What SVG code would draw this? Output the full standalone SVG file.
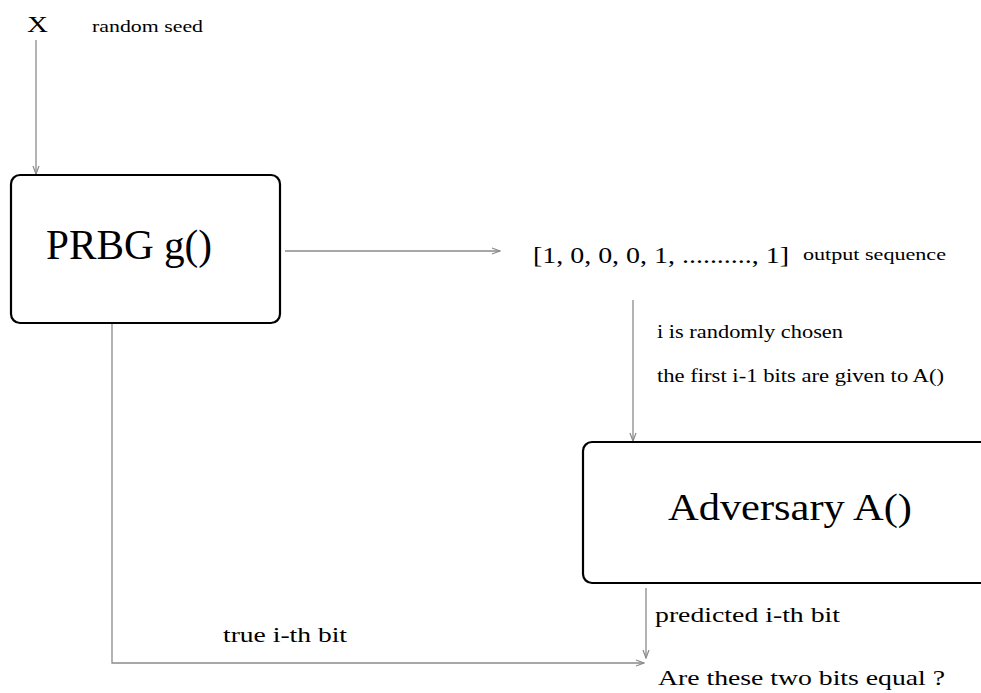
<svg xmlns="http://www.w3.org/2000/svg" width="981" height="693" viewBox="0 0 981 693">
<style>
text{font-family:"Liberation Serif","Times New Roman",serif;fill:#000}
.box{fill:#fff;stroke:#000;stroke-width:2.2}
.conn{fill:none;stroke:#8a8a8a;stroke-width:1.3}
</style>
<defs>
<marker id="arr" markerUnits="userSpaceOnUse" markerWidth="10" markerHeight="8" refX="9" refY="4" orient="auto">
<path d="M1,1 L9,4 L1,7" fill="none" stroke="#8a8a8a" stroke-width="1.2"/>
</marker>
</defs>
<rect width="981" height="693" fill="#fff"/>
<g id="connectors">
<line class="conn" x1="36" y1="40" x2="36" y2="174" marker-end="url(#arr)"/>
<line class="conn" x1="285" y1="251" x2="500" y2="251" marker-end="url(#arr)"/>
<line class="conn" x1="633" y1="300" x2="633" y2="441" marker-end="url(#arr)"/>
<line class="conn" x1="646" y1="588" x2="646" y2="658" marker-end="url(#arr)"/>
<polyline class="conn" points="112,324 112,663 644,663" marker-end="url(#arr)"/>
</g>
<g id="seed">
<text x="27" y="32" font-size="23" textLength="21" lengthAdjust="spacingAndGlyphs">X</text>
<text x="92" y="32" font-size="17" textLength="111" lengthAdjust="spacingAndGlyphs">random seed</text>
</g>
<g id="prbg">
<rect class="box" x="11" y="175" width="269" height="148" rx="9"/>
<text x="46" y="259" font-size="42" textLength="166" lengthAdjust="spacingAndGlyphs">PRBG g()</text>
</g>
<g id="sequence">
<text x="533" y="263" font-size="24" textLength="256" lengthAdjust="spacingAndGlyphs">[1, 0, 0, 0, 1, .........., 1]</text>
<text x="803" y="260" font-size="17" textLength="143" lengthAdjust="spacingAndGlyphs">output sequence</text>
</g>
<g id="choice">
<text x="657" y="338" font-size="18" textLength="186" lengthAdjust="spacingAndGlyphs">i is randomly chosen</text>
<text x="657" y="382" font-size="18" textLength="287" lengthAdjust="spacingAndGlyphs">the first i-1 bits are given to A()</text>
</g>
<g id="adversary">
<rect class="box" x="583" y="442" width="420" height="141" rx="9"/>
<text x="668" y="520" font-size="38" textLength="244" lengthAdjust="spacingAndGlyphs">Adversary A()</text>
</g>
<g id="labels">
<text x="655" y="622" font-size="22" textLength="185" lengthAdjust="spacingAndGlyphs">predicted i-th bit</text>
<text x="223" y="642" font-size="22" textLength="124" lengthAdjust="spacingAndGlyphs">true i-th bit</text>
</g>
<g id="compare">
<text x="658" y="685" font-size="22" textLength="287" lengthAdjust="spacingAndGlyphs">Are these two bits equal ?</text>
</g>
</svg>
